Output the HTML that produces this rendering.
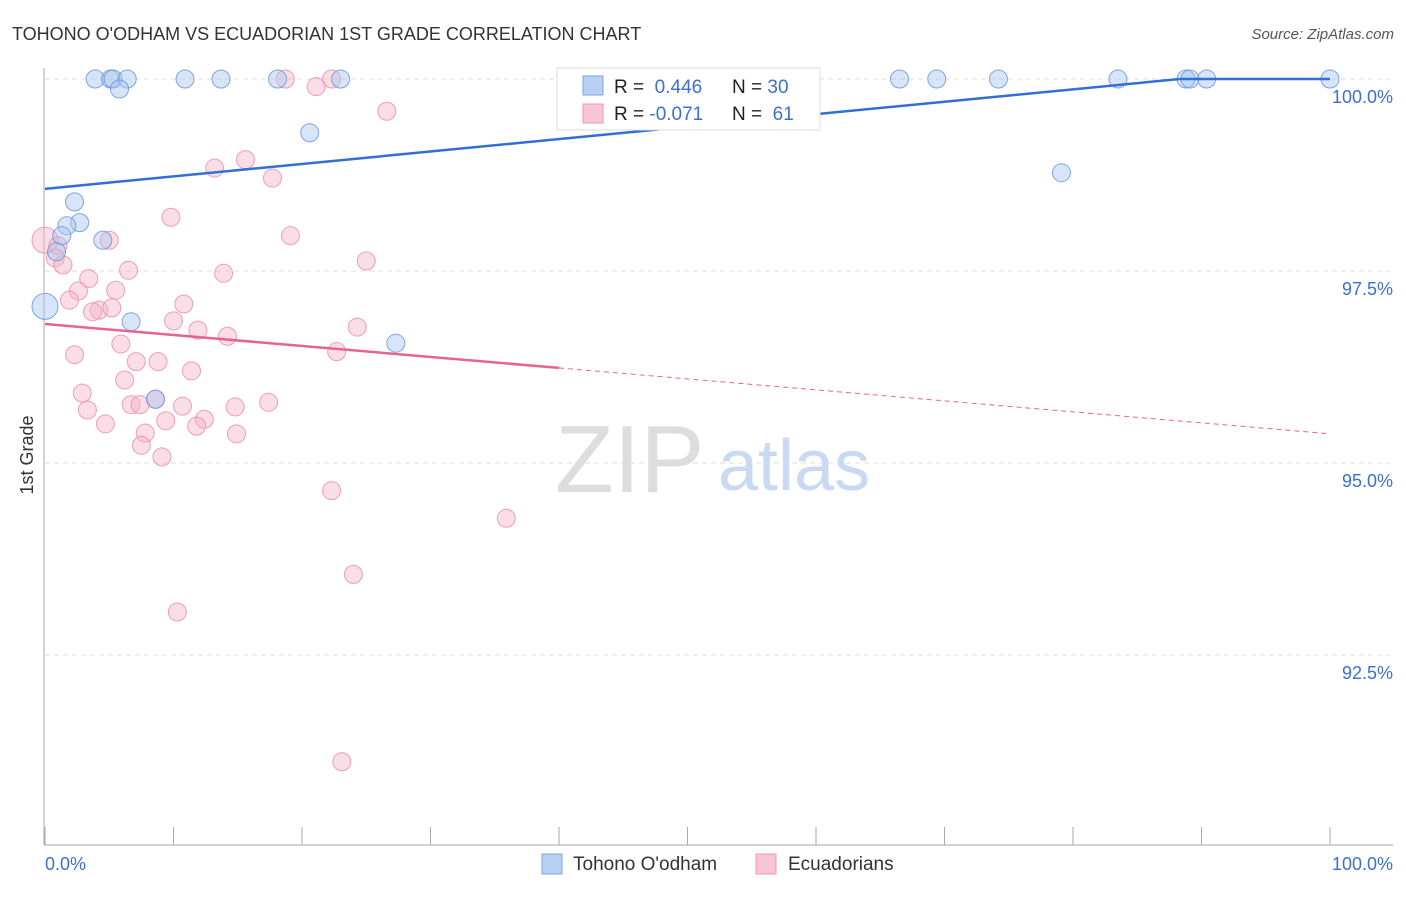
<!DOCTYPE html>
<html><head><meta charset="utf-8"><style>
body{margin:0;background:#fff;font-family:"Liberation Sans",sans-serif}
svg text{font-family:"Liberation Sans",sans-serif}
</style></head><body>
<svg id="c" width="1406" height="892" viewBox="0 0 1406 892">
<text x="12" y="40" font-size="18" fill="#333">TOHONO O'ODHAM VS ECUADORIAN 1ST GRADE CORRELATION CHART</text>
<text x="1394" y="39" font-size="15" fill="#555" text-anchor="end" font-style="italic">Source: ZipAtlas.com</text>
<text x="33" y="455" font-size="18" fill="#333" text-anchor="middle" transform="rotate(-90 33 455)">1st Grade</text>
<g>
<text x="555" y="492" font-size="96" fill="#ddd" font-family="Liberation Serif,serif">ZIP</text>
<text x="718" y="490" font-size="72" fill="#c8daf3">atlas</text>
</g>
<g id="grid"></g><g id="axes"></g><g id="pts"></g><g id="lines"></g>
<g>
<rect x="557" y="68" width="263" height="62" fill="#fff" stroke="#ddd"/>
<rect x="583" y="76" width="20" height="19" fill="#b8d0f3" stroke="#7aa5e5"/>
<rect x="583" y="104" width="20" height="19" fill="#f9c4d3" stroke="#ec9ab5"/>
<text x="614" y="93" font-size="19" fill="#222">R = <tspan fill="#3b6fd0">&#160;0.446</tspan><tspan x="732">N = </tspan><tspan fill="#3b6fd0">30</tspan></text>
<text x="614" y="120" font-size="19" fill="#222">R = <tspan fill="#3b6fd0">-0.071</tspan><tspan x="732">N = </tspan><tspan fill="#3b6fd0">&#160;61</tspan></text>
</g>
<g>
<rect x="542" y="854" width="20" height="20" fill="#b8d0f3" stroke="#7aa5e5"/>
<text x="573" y="870" font-size="19" fill="#333">Tohono O'odham</text>
<rect x="756" y="854" width="20" height="20" fill="#f9c4d3" stroke="#ec9ab5"/>
<text x="788" y="870" font-size="19" fill="#333">Ecuadorians</text>
</g>
</svg>
<script>
const yTicks=[100,97.5,95,92.5];
const yTickLabels=["100.0%","97.5%","95.0%","92.5%"];
const xTickLabels=["0.0%","100.0%"];
const blueX=[3.9,5.1,5.3,6.4,5.8,10.9,13.7,18.1,23.0,20.6,2.3,2.7,1.7,1.3,4.5,0.9,0,6.7,8.6,27.3,47.6,66.5,69.4,74.2,83.5,79.1,88.8,89.1,90.4,100];
const blueY=[100,100,100,100,99.87,100,100,100,100,99.30,98.40,98.13,98.09,97.96,97.90,97.75,97.04,96.84,95.83,96.56,100,100,100,100,100,98.78,100,100,100,100];
const pinkX=[18.7,22.3,21.1,26.6,13.2,15.6,17.7,9.8,19.1,5.0,0,1.0,0.8,1.4,6.5,25.0,13.9,3.4,5.5,2.6,1.9,10.8,4.2,3.7,5.2,10.0,11.9,14.2,24.3,5.9,2.3,22.7,7.1,8.8,6.2,11.4,2.9,6.7,7.4,8.6,10.7,14.8,17.4,3.3,9.4,12.4,11.8,4.7,7.8,14.9,7.5,9.1,22.3,35.9,24.0,10.3,23.1];
const pinkY=[100,100,99.90,99.58,98.84,98.95,98.71,98.20,97.96,97.90,97.90,97.83,97.67,97.58,97.51,97.63,97.47,97.40,97.25,97.24,97.12,97.07,96.99,96.97,97.02,96.85,96.73,96.65,96.77,96.55,96.41,96.45,96.32,96.32,96.08,96.20,95.91,95.76,95.76,95.83,95.74,95.73,95.79,95.69,95.55,95.57,95.48,95.51,95.39,95.38,95.23,95.08,94.64,94.28,93.55,93.06,91.11];
const blueTrend=[98.57,100];   // y at x=0 and x=88.3
const blueTrendEndX=88.3;
const pinkTrend=[96.81,95.38]; // y at x=0 and x=100
const pinkSolidEndX=40;
const NS="http://www.w3.org/2000/svg";
const sx=v=>45+v*12.85;
const sy=v=>79+(100-v)*76.8;
function mk(tag,attrs,parent){const e=document.createElementNS(NS,tag);for(const k in attrs)e.setAttribute(k,attrs[k]);document.getElementById(parent).appendChild(e);return e;}
yTicks.forEach((t,i)=>{
 const g=mk('line',{x1:45,x2:1393,y1:sy(t),y2:sy(t),stroke:'#ddd','stroke-dasharray':'5,4'},'grid');
 
 
 const l=mk('text',{x:1393,y:sy(t)+24,'font-size':18,fill:'#3b6fd0','text-anchor':'end'},'grid');
 l.textContent=yTickLabels[i];
 
 
});
let a=mk('line',{x1:44,x2:44,y1:68,y2:845,stroke:'#aaa'},'axes');


a=mk('line',{x1:44,x2:1393,y1:845,y2:845,stroke:'#aaa'},'axes');


for(let k=0;k<=10;k++){const t=mk('line',{x1:sx(k*10),x2:sx(k*10),y1:827,y2:845,stroke:'#aaa'},'axes');
 
 }
[[0,'start',45],[1,'end',1393]].forEach(([i,anc,x])=>{const t=mk('text',{x:x,y:870,'font-size':18,fill:'#3b6fd0','text-anchor':anc},'axes');t.textContent=xTickLabels[i];
 
 });
function dots(X,Y,fill,stroke,name){X.forEach((x,i)=>{const r=(x===0)?13:9;
 const c=mk('circle',{cx:sx(x),cy:sy(Y[i]),r:r,fill:fill,'fill-opacity':0.45,stroke:stroke,'stroke-opacity':0.8,'stroke-width':1},'pts');
 
 });}
dots(pinkX,pinkY,'#f5b3c7','#e88aa9','point-ecuadorians');
dots(blueX,blueY,'#a8c6f0','#5f92dc','point-tohono');
let ln=mk('line',{x1:sx(0),y1:sy(blueTrend[0]),x2:sx(blueTrendEndX),y2:sy(blueTrend[1]),stroke:'#2f6fd6','stroke-width':2.5},'lines');


ln=mk('line',{x1:sx(blueTrendEndX),y1:sy(blueTrend[1]),x2:sx(100),y2:sy(blueTrend[1]),stroke:'#2f6fd6','stroke-width':2.5},'lines');


const py=x=>pinkTrend[0]+(pinkTrend[1]-pinkTrend[0])*x/100;
ln=mk('line',{x1:sx(0),y1:sy(py(0)),x2:sx(pinkSolidEndX),y2:sy(py(pinkSolidEndX)),stroke:'#e8648f','stroke-width':2.5},'lines');


ln=mk('line',{x1:sx(pinkSolidEndX),y1:sy(py(pinkSolidEndX)),x2:sx(100),y2:sy(py(100)),stroke:'#e8648f','stroke-width':1,'stroke-dasharray':'5,4'},'lines');


</script>
</body></html>
